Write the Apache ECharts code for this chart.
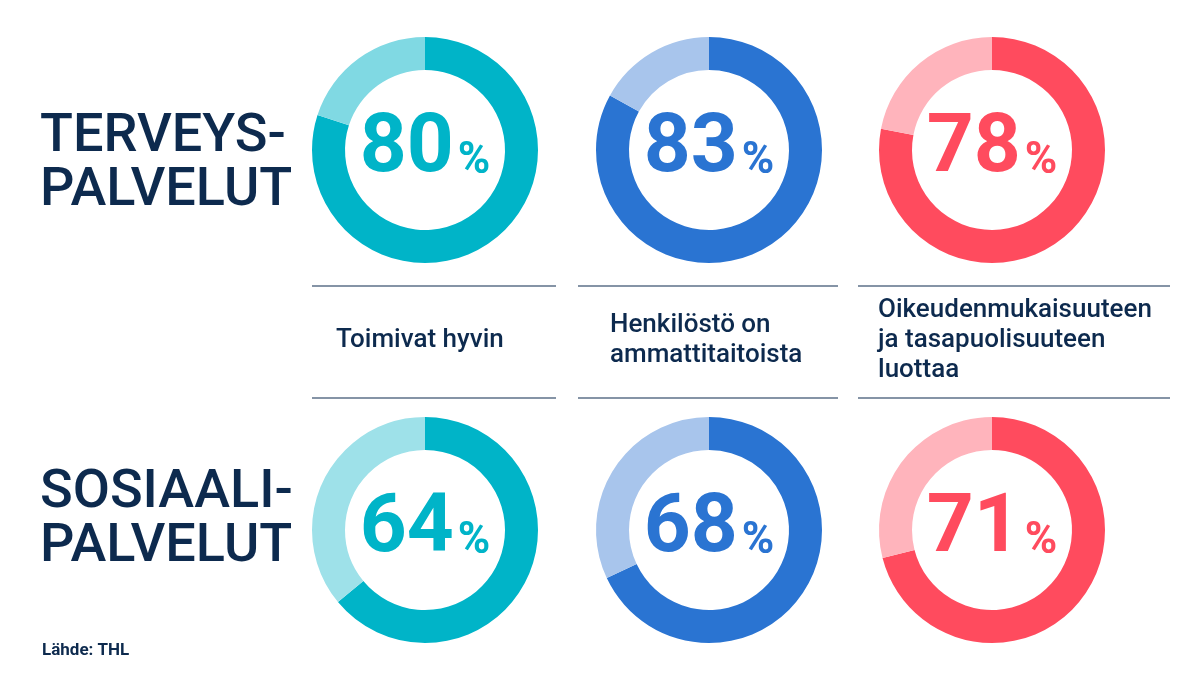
<!DOCTYPE html>
<html><head><meta charset="utf-8">
<script src="https://cdn.jsdelivr.net/npm/echarts@6/dist/echarts.min.js"></script>
<style>html,body{margin:0;background:#fff}#c{width:1198px;height:674px}</style>
</head><body><div id="c"></div>
<script>
const rowLabels = [["TERVEYS-","PALVELUT"],["SOSIAALI-","PALVELUT"]];
const captions = ["Toimivat hyvin","Henkilöstö on\nammattitaitoista","Oikeudenmukaisuuteen\nja tasapuolisuuteen\nluottaa"];
const topValues = [80,83,78];
const bottomValues = [64,68,71];
const darkColors = ["#00b4c8","#2a74d2","#ff4b5e"];
const lightTop = ["#80d9e3","#a8c5ec","#ffb4bc"];
const lightBottom = ["#9ee1e9","#a8c5ec","#ffb4bc"];
const source = "Lähde: THL";

const cx = [425,709,992], cy = [150,530];
const font = "Roboto, 'Noto Sans', sans-serif";
const series = [];
[topValues,bottomValues].forEach((vals,r)=>{
  vals.forEach((v,i)=>{
    series.push({type:'pie',radius:[80,113],center:[cx[i],cy[r]],startAngle:90,silent:true,
      label:{show:true,position:'center',formatter:'{a|'+v+'}{b|%}',
        rich:{a:{fontFamily:font,fontWeight:'bold',fontSize:82,color:darkColors[i]},
              b:{fontFamily:font,fontWeight:'bold',fontSize:44,color:darkColors[i],padding:[24,0,0,4]}}},
      labelLine:{show:false},
      data:[{value:v,itemStyle:{color:darkColors[i]}},
            {value:100-v,itemStyle:{color:(r?lightBottom:lightTop)[i]},label:{show:false}}]});
  });
});
const g = [];
const lx = [[312,556],[578,838],[858,1170]];
[286,398].forEach(y=>lx.forEach(([a,b])=>g.push({type:'line',shape:{x1:a,y1:y,x2:b,y2:y},style:{stroke:'#0d2a4e',lineWidth:1.2}})));
const capX=[336,610,878];
captions.forEach((t,i)=>g.push({type:'text',left:capX[i],top:340-t.split('\n').length*15,style:{text:t,font:'500 26px '+font,fill:'#0d2a4e',lineHeight:30}}));
rowLabels.forEach((l,r)=>g.push({type:'text',left:40,top:r?466:110,style:{text:l.join('\n'),font:'500 54px '+font,fill:'#0d2a4e',lineHeight:54}}));
g.push({type:'text',left:42,top:642,style:{text:source,font:'bold 17px '+font,fill:'#0d2a4e'}});
echarts.init(document.getElementById('c')).setOption({animation:false,series,graphic:g});
</script></body></html>
